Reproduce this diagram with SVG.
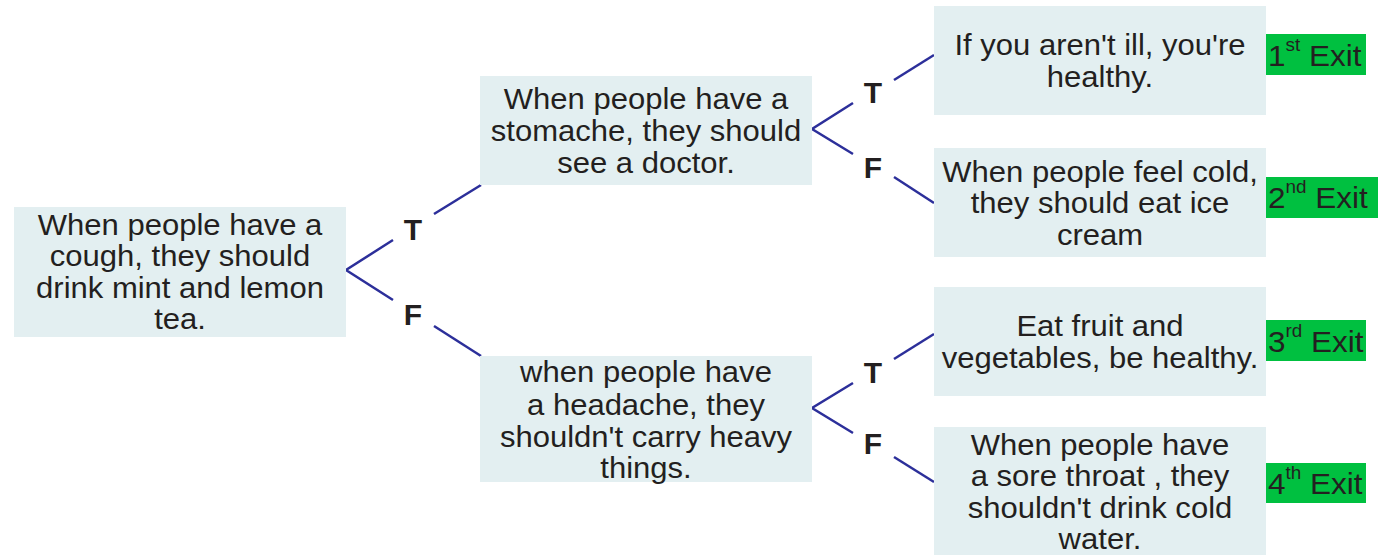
<svg xmlns="http://www.w3.org/2000/svg" width="1391" height="555" viewBox="0 0 1391 555">
<style>
.box{fill:#e3eff1}
.exit{fill:#00c040}
.t{font-family:"Liberation Sans",Arial,sans-serif;font-size:29px;fill:#231f20;text-anchor:middle}
.e{font-family:"Liberation Sans",Arial,sans-serif;font-size:30px;fill:#231f20}
.sup{font-size:18px}
.lab{font-family:"Liberation Sans",Arial,sans-serif;font-size:30px;font-weight:bold;fill:#231f20;text-anchor:middle}
.c{stroke:#2c2f9a;stroke-width:2.5;fill:none}
</style>
<g id="connectors">
<polyline class="c" points="393,240 346,270 393,300"/>
<line class="c" x1="434" y1="214" x2="481" y2="185"/>
<line class="c" x1="434" y1="326" x2="481" y2="356"/>
<polyline class="c" points="853,103 812,129 853,154"/>
<line class="c" x1="894" y1="80" x2="934" y2="55"/>
<line class="c" x1="894" y1="177" x2="934" y2="203"/>
<polyline class="c" points="853,383 812,408 853,433"/>
<line class="c" x1="894" y1="359" x2="934" y2="334"/>
<line class="c" x1="894" y1="457" x2="934" y2="482"/>
<text class="lab" x="413" y="240">T</text>
<text class="lab" x="413" y="325">F</text>
<text class="lab" x="873" y="103">T</text>
<text class="lab" x="873" y="178">F</text>
<text class="lab" x="873" y="383">T</text>
<text class="lab" x="873" y="454">F</text>
</g>
<g id="root">
<rect class="box" x="14" y="207" width="332" height="130"/>
<text class="t" transform="translate(180 0) scale(1.07 1)"><tspan x="0" y="235">When people have a</tspan><tspan x="0" y="266.5">cough, they should</tspan><tspan x="0" y="298">drink mint and lemon</tspan><tspan x="0" y="329.5">tea.</tspan></text>
</g>
<g id="stomache">
<rect class="box" x="480" y="76" width="332" height="109"/>
<text class="t" transform="translate(646 0) scale(1.07 1)"><tspan x="0" y="109">When people have a</tspan><tspan x="0" y="141">stomache, they should</tspan><tspan x="0" y="173">see a doctor.</tspan></text>
</g>
<g id="headache">
<rect class="box" x="480" y="356" width="332" height="126"/>
<text class="t" transform="translate(646 0) scale(1.07 1)"><tspan x="0" y="382">when people have</tspan><tspan x="0" y="415">a headache, they</tspan><tspan x="0" y="447">shouldn't carry heavy</tspan><tspan x="0" y="478">things.</tspan></text>
</g>
<g id="healthy">
<rect class="box" x="934" y="6" width="332" height="109"/>
<text class="t" transform="translate(1100 0) scale(1.07 1)"><tspan x="0" y="55">If you aren't ill, you're</tspan><tspan x="0" y="87">healthy.</tspan></text>
</g>
<g id="cold">
<rect class="box" x="934" y="148" width="332" height="109"/>
<text class="t" transform="translate(1100 0) scale(1.07 1)"><tspan x="0" y="182">When people feel cold,</tspan><tspan x="0" y="213.5">they should eat ice</tspan><tspan x="0" y="245">cream</tspan></text>
</g>
<g id="fruit">
<rect class="box" x="934" y="287" width="332" height="109"/>
<text class="t" transform="translate(1100 0) scale(1.07 1)"><tspan x="0" y="336">Eat fruit and</tspan><tspan x="0" y="368">vegetables, be healthy.</tspan></text>
</g>
<g id="throat">
<rect class="box" x="934" y="427" width="332" height="128"/>
<text class="t" transform="translate(1100 0) scale(1.07 1)"><tspan x="0" y="455">When people have</tspan><tspan x="0" y="486.5">a sore throat , they</tspan><tspan x="0" y="518">shouldn't drink cold</tspan><tspan x="0" y="549">water.</tspan></text>
</g>
<g id="exit1">
<rect class="exit" x="1266" y="34" width="100" height="41"/>
<text class="e" transform="translate(1268 0) scale(1.05 1)" x="0" y="66">1<tspan class="sup" dy="-15">st</tspan><tspan dy="15"> Exit</tspan></text>
</g>
<g id="exit2">
<rect class="exit" x="1266" y="177" width="112" height="41"/>
<text class="e" transform="translate(1268 0) scale(1.05 1)" x="0" y="208">2<tspan class="sup" dy="-15">nd</tspan><tspan dy="15"> Exit</tspan></text>
</g>
<g id="exit3">
<rect class="exit" x="1266" y="320" width="100" height="41"/>
<text class="e" transform="translate(1268 0) scale(1.05 1)" x="0" y="352">3<tspan class="sup" dy="-15">rd</tspan><tspan dy="15"> Exit</tspan></text>
</g>
<g id="exit4">
<rect class="exit" x="1266" y="463" width="100" height="40"/>
<text class="e" transform="translate(1268 0) scale(1.05 1)" x="0" y="494">4<tspan class="sup" dy="-15">th</tspan><tspan dy="15"> Exit</tspan></text>
</g>
</svg>
